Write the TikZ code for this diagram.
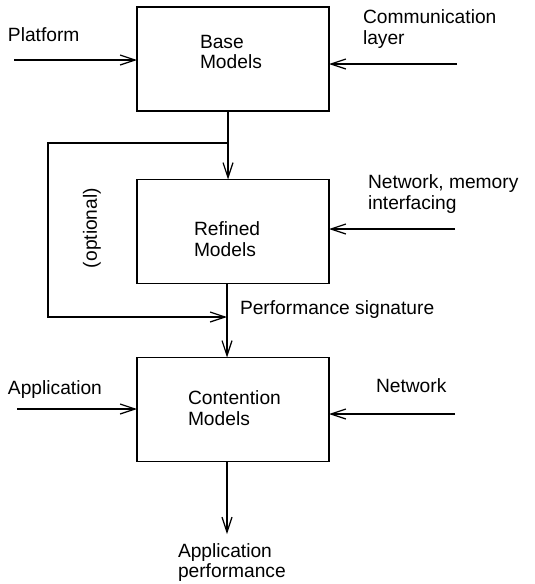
\documentclass[tikz,border=0pt]{standalone}
\usepackage{fontspec}
\setmainfont{Liberation Sans}
\usetikzlibrary{arrows.meta}
\begin{document}
\begin{tikzpicture}[x=1pt,y=-1pt,
  every node/.style={inner sep=0pt,outer sep=0pt},
  box/.style={draw,line width=1.3pt,minimum width=192pt,minimum height=104pt},
  lbl/.style={font=\fontsize{19.2}{20.5}\selectfont,align=left},
  conn/.style={line width=1.3pt,-{Straight Barb[length=15pt,width=10pt,line width=1.2pt]}},
  plain/.style={line width=1.3pt}]
\useasboundingbox (0,0) rectangle (535,584);
% boxes
\node[box] (b1) at (233,59) {};
\node[box] (b2) at (233,231.5) {};
\node[box] (b3) at (233,409.5) {};
% box texts
\node[lbl,anchor=north west] (t1) at (200,35) {Base\\Models};
\node[lbl,anchor=north west] (t2) at (194,221.7) {Refined\\Models};
\node[lbl,anchor=north west] (t3) at (188,390.7) {Contention\\Models};
% outside labels
\node[lbl,anchor=base west] (lp) at (8,41.7) {Platform};
\node[lbl,anchor=north west] (lc) at (363,10) {Communication\\layer};
\node[lbl,anchor=north west] (ln) at (368,175) {Network, memory\\interfacing};
\node[lbl,anchor=base west] (ls) at (240,314.3) {Performance signature};
\node[lbl,anchor=center,rotate=90] (lo) at (92,228) {(optional)};
\node[lbl,anchor=base west] (la) at (8,394) {Application};
\node[lbl,anchor=base west] (lnet) at (376,392.3) {Network};
\node[lbl,anchor=north west] (lap) at (178,543.3) {Application\\performance};
% free ends
\coordinate (pin) at (14,60);
\coordinate (cin) at (457,64);
\coordinate (nin) at (455,229);
\coordinate (ain) at (17,409);
\coordinate (netin) at (455,414);
\coordinate (out) at (227,534);
\coordinate (xa) at (228,0);
\coordinate (xb) at (227,0);
\coordinate (j1) at (228,143);
\coordinate (c1) at (48,143);
\coordinate (c2) at (48,317);
\coordinate (j2) at (227,317);
% connectors
\draw[conn] (pin) -- (pin -| b1.west);
\draw[conn] (cin) -- (cin -| b1.east);
\draw[conn] (nin) -- (nin -| b2.east);
\draw[conn] (ain) -- (ain -| b3.west);
\draw[conn] (netin) -- (netin -| b3.east);
\draw[conn] (b1.south -| xa) -- (b2.north -| xa);
\draw[conn] (b2.south -| xb) -- (b3.north -| xb);
\draw[conn] (b3.south -| xb) -- (out);
\draw[conn] (j1) -- (c1) -- (c2) -- (j2);
\end{tikzpicture}
\end{document}
